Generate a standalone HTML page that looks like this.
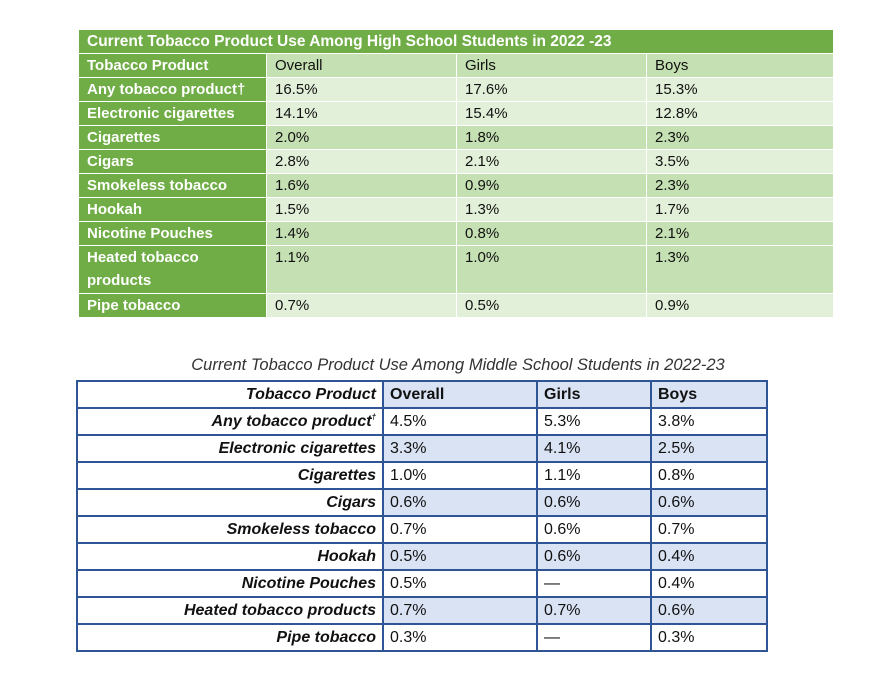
<!DOCTYPE html>
<html><head><meta charset="utf-8"><style>
body{margin:0;width:892px;height:679px;background:#fff;position:relative;font-family:"Liberation Sans",sans-serif;overflow:hidden}
table{border-collapse:collapse;position:absolute;table-layout:fixed}
#t1{left:78px;top:29px;width:755px;font-size:15px}
#t1 td{border:1px solid #fff;padding:0 8px;height:23px;line-height:23px;vertical-align:top;color:#111}
#t1 td.l{background:#70ad47;color:#fff;font-weight:bold}
#t1 tr.a td.d{background:#e2efd9}
#t1 tr.b td.d{background:#c5e0b3}
#t1 td.title{background:#70ad47;color:#fff;font-weight:bold;font-size:15.5px}
#title2{position:absolute;left:76px;width:764px;top:356px;text-align:center;font-style:italic;font-size:16.5px;color:#333}
#t2{left:76px;top:380px;width:690px;font-size:16px}
#t2 td{border:2px solid #2f5597;height:25px;padding:0 6px;line-height:25px;color:#111}
#t2 td.l{text-align:right;font-style:italic;font-weight:bold;background:#fff}
#t2 tr.s td.d{background:#dae3f3}
#t2 tr.w td.d{background:#fff}
sup{line-height:0;font-size:8px}
</style></head><body>
<table id="t1">
<colgroup><col style="width:188px"><col style="width:190px"><col style="width:190px"><col style="width:187px"></colgroup>
<tr><td class="title" colspan="4">Current Tobacco Product Use Among High School Students in 2022 -23</td></tr>
<tr class="b"><td class="l">Tobacco Product</td><td class="d">Overall</td><td class="d">Girls</td><td class="d">Boys</td></tr>
<tr class="a"><td class="l">Any tobacco product†</td><td class="d">16.5%</td><td class="d">17.6%</td><td class="d">15.3%</td></tr>
<tr class="a"><td class="l">Electronic cigarettes</td><td class="d">14.1%</td><td class="d">15.4%</td><td class="d">12.8%</td></tr>
<tr class="b"><td class="l">Cigarettes</td><td class="d">2.0%</td><td class="d">1.8%</td><td class="d">2.3%</td></tr>
<tr class="a"><td class="l">Cigars</td><td class="d">2.8%</td><td class="d">2.1%</td><td class="d">3.5%</td></tr>
<tr class="b"><td class="l">Smokeless tobacco</td><td class="d">1.6%</td><td class="d">0.9%</td><td class="d">2.3%</td></tr>
<tr class="a"><td class="l">Hookah</td><td class="d">1.5%</td><td class="d">1.3%</td><td class="d">1.7%</td></tr>
<tr class="b"><td class="l">Nicotine Pouches</td><td class="d">1.4%</td><td class="d">0.8%</td><td class="d">2.1%</td></tr>
<tr class="b"><td class="l" style="height:47px;line-height:23px">Heated tobacco products</td><td class="d">1.1%</td><td class="d">1.0%</td><td class="d">1.3%</td></tr>
<tr class="a"><td class="l">Pipe tobacco</td><td class="d">0.7%</td><td class="d">0.5%</td><td class="d">0.9%</td></tr>
</table>
<div id="title2">Current Tobacco Product Use Among Middle School Students in 2022-23</div>
<table id="t2">
<colgroup><col style="width:306px"><col style="width:154px"><col style="width:114px"><col style="width:116px"></colgroup>
<tr class="s"><td class="l">Tobacco Product</td><td class="d" style="font-weight:bold">Overall</td><td class="d" style="font-weight:bold">Girls</td><td class="d" style="font-weight:bold">Boys</td></tr>
<tr class="w"><td class="l">Any tobacco product<sup>†</sup></td><td class="d">4.5%</td><td class="d">5.3%</td><td class="d">3.8%</td></tr>
<tr class="s"><td class="l">Electronic cigarettes</td><td class="d">3.3%</td><td class="d">4.1%</td><td class="d">2.5%</td></tr>
<tr class="w"><td class="l">Cigarettes</td><td class="d">1.0%</td><td class="d">1.1%</td><td class="d">0.8%</td></tr>
<tr class="s"><td class="l">Cigars</td><td class="d">0.6%</td><td class="d">0.6%</td><td class="d">0.6%</td></tr>
<tr class="w"><td class="l">Smokeless tobacco</td><td class="d">0.7%</td><td class="d">0.6%</td><td class="d">0.7%</td></tr>
<tr class="s"><td class="l">Hookah</td><td class="d">0.5%</td><td class="d">0.6%</td><td class="d">0.4%</td></tr>
<tr class="w"><td class="l">Nicotine Pouches</td><td class="d">0.5%</td><td class="d">—</td><td class="d">0.4%</td></tr>
<tr class="s"><td class="l">Heated tobacco products</td><td class="d">0.7%</td><td class="d">0.7%</td><td class="d">0.6%</td></tr>
<tr class="w"><td class="l">Pipe tobacco</td><td class="d">0.3%</td><td class="d">—</td><td class="d">0.3%</td></tr>
</table>
</body></html>
